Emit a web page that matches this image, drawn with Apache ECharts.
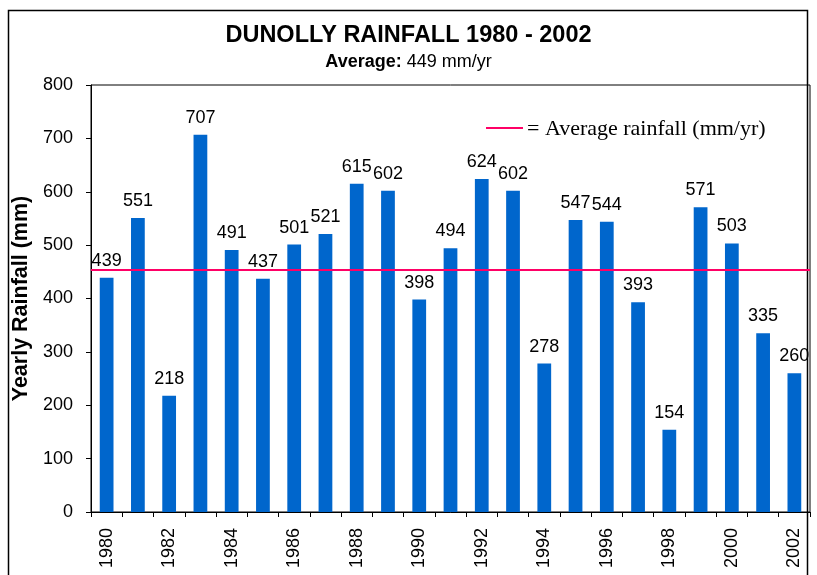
<!DOCTYPE html>
<html><head><meta charset="utf-8">
<script src="https://cdn.jsdelivr.net/npm/echarts@6/dist/echarts.min.js"></script>
<style>html,body{margin:0;padding:0;background:#fff}#c{width:817px;height:575px}</style>
</head><body><div id="c"></div>
<script>
const years = ['1980','1981','1982','1983','1984','1985','1986','1987','1988','1989','1990','1991','1992','1993','1994','1995','1996','1997','1998','1999','2000','2001','2002'];
const rainfall = [439,551,218,707,491,437,501,521,615,602,398,494,624,602,278,547,544,393,154,571,503,335,260];
const averageLine = 454;
const yTicks = {min:0, max:800, interval:100};

const chart = echarts.init(document.getElementById('c'));
chart.setOption({
  animation:false,
  backgroundColor:'#fff',
  title:{
    text:'DUNOLLY RAINFALL 1980 - 2002',
    subtext:'{b|Average:} 449 mm/yr',
    left:'center', top:19, itemGap:5,
    textStyle:{fontFamily:'Liberation Sans, Arial', fontWeight:'bold', fontSize:23.5, color:'#000'},
    subtextStyle:{fontFamily:'Liberation Sans, Arial', fontSize:18, color:'#000',
      rich:{b:{fontFamily:'Liberation Sans, Arial', fontWeight:'bold', fontSize:18, color:'#000'}}}
  },
  grid:{left:91, right:7, top:85, bottom:63, show:true, borderColor:'#000', borderWidth:1, backgroundColor:'transparent'},
  xAxis:{
    type:'category', data:years, boundaryGap:true,
    axisLine:{lineStyle:{color:'#000'}},
    axisTick:{show:true, alignWithLabel:false, interval:0, length:5, lineStyle:{color:'#000'}},
    axisLabel:{interval:1, rotate:90, fontFamily:'Liberation Sans, Arial', fontSize:18, color:'#000', margin:16}
  },
  yAxis:{
    type:'value', min:yTicks.min, max:yTicks.max, interval:yTicks.interval,
    name:'Yearly Rainfall (mm)', nameLocation:'middle', nameGap:53,
    nameTextStyle:{fontFamily:'Liberation Sans, Arial', fontWeight:'bold', fontSize:21.5, color:'#000'},
    axisLine:{show:true, lineStyle:{color:'#000'}},
    axisTick:{show:true, length:5, lineStyle:{color:'#000'}},
    splitLine:{show:false},
    axisLabel:{fontFamily:'Liberation Sans, Arial', fontSize:18, color:'#000', margin:18}
  },
  series:[{
    type:'bar', data:rainfall, barWidth:'44%',
    itemStyle:{color:'#0066CC'},
    label:{show:true, position:'top', distance:8, fontFamily:'Liberation Sans, Arial', fontSize:18, color:'#000'},
    markLine:{
      silent:true, symbol:'none', label:{show:false},
      lineStyle:{color:'#FF0066', width:2, type:'solid'},
      data:[{yAxis:averageLine}]
    }
  }],
  graphic:[
    {type:'rect', shape:{x:8.5, y:10.5, width:799, height:570}, style:{fill:'none', stroke:'#000', lineWidth:1.5}, silent:true},
    {type:'line', shape:{x1:486, y1:128, x2:523, y2:128}, style:{stroke:'#FF0066', lineWidth:2}},
    {type:'text', x:527, y:129, style:{text:'= Average rainfall (mm/yr)', font:'22px "Liberation Serif", "Times New Roman", serif', fill:'#000', verticalAlign:'middle'}}
  ]
});
</script></body></html>
